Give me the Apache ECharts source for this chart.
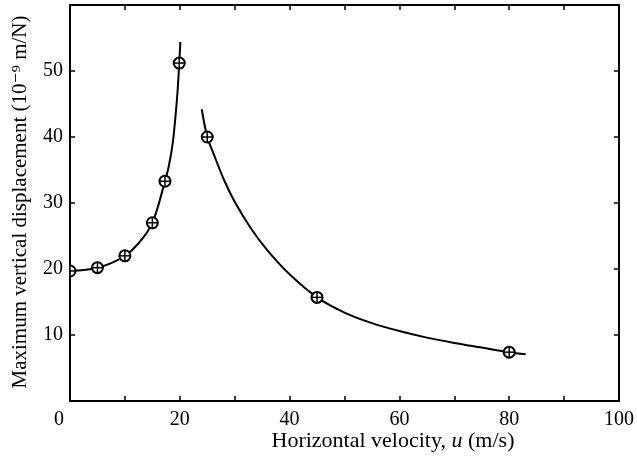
<!DOCTYPE html>
<html>
<head>
<meta charset="utf-8">
<script src="https://cdn.jsdelivr.net/npm/echarts@6/dist/echarts.min.js"></script>
<style>html,body{margin:0;padding:0;background:#fff}#c{width:637px;height:461px}</style>
</head>
<body>
<div id="c"></div>
<script>
// Measured points (circle-plus markers)
var pointX = [0, 5, 10, 15, 17.3, 19.9, 25, 45, 80];
var pointY = [19.7, 20.2, 22, 27, 33.3, 51.2, 40, 15.7, 7.4];
// Fitted curve, branch below resonance
var leftCurveX = [0, 2.5, 5, 7.5, 10, 12.5, 15, 17.3, 18.0, 18.7, 19.2, 19.6, 19.9, 20.1];
var leftCurveY = [19.7, 19.85, 20.2, 20.9, 22, 23.9, 27, 33.3, 35.6, 39, 43, 47, 51.2, 54.4];
// Fitted curve, branch above resonance
var rightCurveX = [24, 25, 26, 28, 30, 33, 36, 40, 45, 50, 55, 60, 65, 70, 75, 80, 83];
var rightCurveY = [44.2, 40, 37.8, 33.6, 30.2, 26.1, 22.8, 19.2, 15.7, 13.4, 11.8, 10.6, 9.6, 8.8, 8.1, 7.4, 7.1];
// Axis titles
var xTitleParts = ['Horizontal velocity, ', 'u', ' (m/s)'];
var yTitle = 'Maximum vertical displacement (10\u207B\u2079 m/N)';

function pairs(xs, ys) { return xs.map(function (x, i) { return [x, ys[i]]; }); }

var font = '"Liberation Serif", "DejaVu Serif", serif';
var axisCommon = {
  axisLine: {show: true, onZero: false, lineStyle: {color: '#000', width: 2}},
  axisTick: {show: true, inside: true, length: 5, lineStyle: {color: '#000', width: 1.5}},
  splitLine: {show: false}
};

function markerItem(params, api) {
  var p = api.coord([api.value(0), api.value(1)]);
  var r = 5.5;
  return {
    type: 'group',
    children: [{
      type: 'circle', shape: {cx: p[0], cy: p[1], r: r},
      style: {fill: '#fff', stroke: '#000', lineWidth: 2}
    }, {
      type: 'line', shape: {x1: p[0] - r, y1: p[1], x2: p[0] + r, y2: p[1]},
      style: {stroke: '#000', lineWidth: 1.5}
    }, {
      type: 'line', shape: {x1: p[0], y1: p[1] - r, x2: p[0], y2: p[1] + r},
      style: {stroke: '#000', lineWidth: 1.5}
    }]
  };
}

var chart = echarts.init(document.getElementById('c'), null, {renderer: 'canvas'});
chart.setOption({
  animation: false,
  backgroundColor: '#fff',
  grid: {left: 70, right: 18, top: 5, bottom: 60, containLabel: false},
  xAxis: [Object.assign({
    type: 'value', position: 'bottom', min: 0, max: 100, interval: 10,
    axisLabel: {
      margin: 9, color: '#000', fontFamily: font, fontSize: 20,
      formatter: function (v) {
        if (v === 0) return '{z|0}';
        return v % 20 === 0 ? String(v) : '';
      },
      rich: {z: {fontFamily: font, fontSize: 20, color: '#000', padding: [0, 22, 0, 0]}}
    }
  }, axisCommon), Object.assign({
    type: 'value', position: 'top', min: 0, max: 100, interval: 10,
    axisLabel: {show: false}
  }, axisCommon)],
  yAxis: [Object.assign({
    type: 'value', position: 'left', min: 0, max: 60, interval: 10,
    axisLabel: {
      margin: 7, color: '#000', fontFamily: font, fontSize: 20,
      formatter: function (v) { return (v === 0 || v === 60) ? '' : String(v); }
    }
  }, axisCommon), Object.assign({
    type: 'value', position: 'right', min: 0, max: 60, interval: 10,
    axisLabel: {show: false}
  }, axisCommon)],
  graphic: [{
    type: 'text', x: 393, y: 441,
    style: {
      text: xTitleParts[0] + '{i|' + xTitleParts[1] + '}' + xTitleParts[2],
      font: '22px ' + font, fill: '#000', textAlign: 'center', textVerticalAlign: 'middle',
      rich: {i: {fontStyle: 'italic', fontFamily: font, fontSize: 22, fill: '#000'}}
    }
  }, {
    type: 'text', rotation: Math.PI / 2, x: 20, y: 202,
    style: {text: yTitle, font: '21px ' + font, fill: '#000', textAlign: 'center', textVerticalAlign: 'middle'}
  }],
  series: [{
    type: 'line', data: pairs(leftCurveX, leftCurveY), smooth: 0.35, showSymbol: false,
    lineStyle: {color: '#000', width: 2}, z: 2, clip: true
  }, {
    type: 'line', data: pairs(rightCurveX, rightCurveY), smooth: 0.35, showSymbol: false,
    lineStyle: {color: '#000', width: 2}, z: 2, clip: true
  }, {
    type: 'custom', data: pairs(pointX, pointY), renderItem: markerItem, clip: true, z: 3
  }]
});
</script>
</body>
</html>
